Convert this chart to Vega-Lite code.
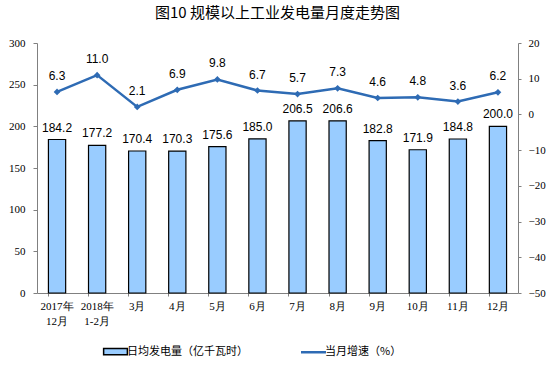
{
  "$schema": "https://vega.github.io/schema/vega-lite/v6.json",
  "width": 481,
  "height": 250,
  "autosize": "none",
  "padding": {"left": 37, "top": 43, "right": 36, "bottom": 73},
  "background": "white",
  "title": {
    "text": "图10  规模以上工业发电量月度走势图",
    "font": "Noto Sans CJK SC",
    "fontSize": 15,
    "fontWeight": "normal",
    "color": "#000000",
    "anchor": "middle",
    "offset": 16
  },
  "config": {
    "view": {"stroke": null},
    "axis": {"grid": false, "domainColor": "#808080", "tickColor": "#808080", "labelColor": "#000000", "labelFont": "Liberation Serif", "labelFontSize": 11, "labelOverlap": false},
    "legend": {
      "title": null,
      "orient": "none",
      "legendX": 73,
      "legendY": 303,
      "direction": "horizontal",
      "labelFont": "Noto Sans CJK SC",
      "labelFontSize": 11,
      "labelColor": "#000000",
      "symbolSize": 625,
      "columnPadding": 48,
      "labelOffset": 6
    }
  },
  "data": {
    "values": [
      {"m": "2017年 12月", "power": 184.2, "growth": 6.3, "s1": "日均发电量（亿千瓦时）", "s2": "当月增速（%）"},
      {"m": "2018年 1-2月", "power": 177.2, "growth": 11.0, "s1": "日均发电量（亿千瓦时）", "s2": "当月增速（%）"},
      {"m": "3月", "power": 170.4, "growth": 2.1, "s1": "日均发电量（亿千瓦时）", "s2": "当月增速（%）"},
      {"m": "4月", "power": 170.3, "growth": 6.9, "s1": "日均发电量（亿千瓦时）", "s2": "当月增速（%）"},
      {"m": "5月", "power": 175.6, "growth": 9.8, "s1": "日均发电量（亿千瓦时）", "s2": "当月增速（%）"},
      {"m": "6月", "power": 185.0, "growth": 6.7, "s1": "日均发电量（亿千瓦时）", "s2": "当月增速（%）"},
      {"m": "7月", "power": 206.5, "growth": 5.7, "s1": "日均发电量（亿千瓦时）", "s2": "当月增速（%）"},
      {"m": "8月", "power": 206.6, "growth": 7.3, "s1": "日均发电量（亿千瓦时）", "s2": "当月增速（%）"},
      {"m": "9月", "power": 182.8, "growth": 4.6, "s1": "日均发电量（亿千瓦时）", "s2": "当月增速（%）"},
      {"m": "10月", "power": 171.9, "growth": 4.8, "s1": "日均发电量（亿千瓦时）", "s2": "当月增速（%）"},
      {"m": "11月", "power": 184.8, "growth": 3.6, "s1": "日均发电量（亿千瓦时）", "s2": "当月增速（%）"},
      {"m": "12月", "power": 200.0, "growth": 6.2, "s1": "日均发电量（亿千瓦时）", "s2": "当月增速（%）"}
    ]
  },
  "encoding": {
    "x": {
      "field": "m",
      "type": "nominal",
      "sort": null,
      "title": null,
      "scale": {"paddingInner": 0.57, "paddingOuter": 0.285},
      "axis": {
        "labelAngle": 0,
        "labelExpr": "split(datum.label, ' ')",
        "labelLineHeight": 15,
        "labelPadding": 4,
        "bandPosition": 0,
        "tickSize": 3,
        "domainColor": "#808080"
      }
    }
  },
  "resolve": {"scale": {"y": "independent"}},
  "layer": [
    {
      "encoding": {
        "y": {
          "field": "power",
          "type": "quantitative",
          "title": null,
          "scale": {"domain": [0, 300], "nice": false},
          "axis": {"values": [0, 50, 100, 150, 200, 250, 300], "tickSize": 4, "labelPadding": 8, "orient": "left", "labelOverlap": false}
        }
      },
      "layer": [
        {
          "mark": {"type": "bar", "fill": "#99CCFF", "strokeWidth": 1.2},
          "encoding": {
            "stroke": {
              "field": "s1",
              "type": "nominal",
              "scale": {"domain": ["日均发电量（亿千瓦时）", "当月增速（%）"], "range": ["#000000", "#2E6BB4"]},
              "legend": {
                "encode": {
                  "symbols": {
                    "update": {
                      "shape": {"signal": "datum.value == '当月增速（%）' ? 'M-1,0L1,0' : 'M-0.95,-0.25L0.95,-0.25L0.95,0.25L-0.95,0.25Z'"},
                      "strokeWidth": {"signal": "datum.value == '当月增速（%）' ? 2.5 : 1.5"},
                      "strokeOpacity": {"value": 1},
                      "opacity": {"value": 1},
                      "fill": {"signal": "datum.value == '当月增速（%）' ? 'transparent' : '#99CCFF'"},
                      "fillOpacity": {"value": 1}
                    }
                  }
                }
              }
            }
          }
        },
        {
          "mark": {"type": "text", "baseline": "bottom", "dy": -5, "font": "Liberation Sans", "fontSize": 12, "color": "#000000"},
          "encoding": {
            "text": {"field": "power", "type": "quantitative", "format": ".1f"}
          }
        }
      ]
    },
    {
      "encoding": {
        "y": {
          "field": "growth",
          "type": "quantitative",
          "title": null,
          "scale": {"domain": [-50, 20], "nice": false},
          "axis": {"orient": "right", "values": [-50, -40, -30, -20, -10, 0, 10, 20], "tickSize": 3, "labelPadding": 7, "labelOverlap": false, "labelFlush": false}
        }
      },
      "layer": [
        {
          "mark": {"type": "line", "strokeWidth": 2.5},
          "encoding": {
            "stroke": {
              "field": "s2",
              "type": "nominal",
              "legend": {
                "encode": {
                  "symbols": {
                    "update": {
                      "shape": {"signal": "datum.value == '当月增速（%）' ? 'M-1,0L1,0' : 'M-0.95,-0.25L0.95,-0.25L0.95,0.25L-0.95,0.25Z'"},
                      "strokeWidth": {"signal": "datum.value == '当月增速（%）' ? 2.5 : 1.5"},
                      "strokeOpacity": {"value": 1},
                      "opacity": {"value": 1},
                      "fill": {"signal": "datum.value == '当月增速（%）' ? 'transparent' : '#99CCFF'"},
                      "fillOpacity": {"value": 1}
                    }
                  }
                }
              }
            }
          }
        },
        {
          "mark": {"type": "point", "shape": "diamond", "filled": true, "size": 45, "color": "#2E6BB4", "opacity": 1}
        },
        {
          "mark": {"type": "text", "baseline": "bottom", "dy": -9, "font": "Liberation Sans", "fontSize": 12, "color": "#000000"},
          "encoding": {
            "text": {"field": "growth", "type": "quantitative", "format": ".1f"}
          }
        }
      ]
    }
  ]
}
